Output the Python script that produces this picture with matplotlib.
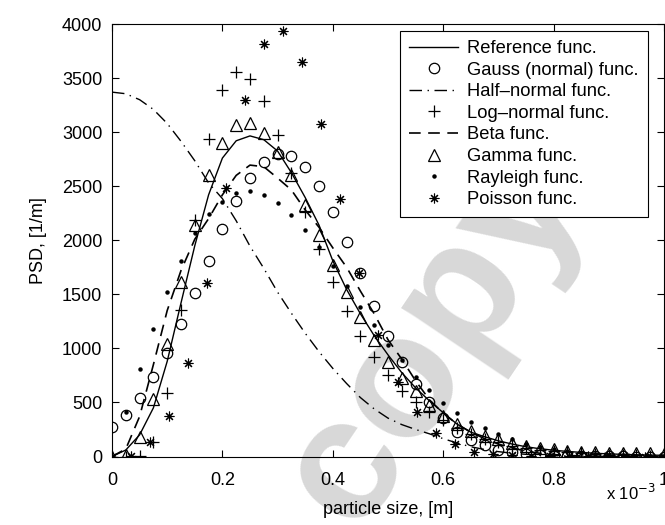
import numpy as np
import matplotlib
matplotlib.use("Agg")
import matplotlib.pyplot as plt

plt.rcParams["font.family"] = ["Liberation Sans", "DejaVu Sans"]
plt.rcParams["font.size"] = 13

# x grid in units of 1e-3 m (0 ... 1, step 0.025)
x = np.linspace(0, 1, 41)
# Poisson is sampled on a coarser grid (30 points)
x_poisson = np.linspace(0, 1, 30)

reference = [0, 60, 200, 450, 880, 1420, 1950, 2420, 2760, 2920, 2965,
             2930, 2825, 2625, 2395, 2140, 1810, 1545, 1320, 1118, 940,
             775, 635, 515, 405, 300, 225, 183, 145, 115, 90, 72, 58, 47,
             38, 30, 24, 20, 16, 13, 11]
gauss = [270, 384, 538, 738, 959, 1222, 1514, 1807, 2103, 2364, 2577,
         2725, 2796, 2780, 2678, 2503, 2263, 1985, 1693, 1394, 1116, 876,
         670, 501, 353, 229, 152, 104, 62, 38, 25, 15, 9, 5, 3, 2, 1, 1,
         0, 0, 0]
half_normal = [3370, 3355, 3300, 3210, 3080, 2915, 2735, 2530, 2385, 2180,
               1945, 1740, 1520, 1325, 1140, 970, 815, 675, 545, 440, 355,
               295, 250, 210, 165, 125, 90, 65, 45, 30, 20, 13, 8, 5, 3, 2,
               1, 1, 0, 0, 0]
log_normal = [0, 0, 3, 137, 590, 1354, 2190, 2932, 3387, 3556, 3495, 3289,
              2971, 2620, 2262, 1915, 1616, 1347, 1114, 917, 753, 608, 506,
              414, 337, 262, 210, 165, 130, 100, 80, 62, 48, 38, 30, 23, 18,
              14, 11, 9, 7]
beta = [0, 70, 370, 850, 1350, 1720, 2010, 2200, 2420, 2600, 2695, 2680,
        2575, 2465, 2280, 2120, 1930, 1750, 1530, 1320, 1080, 900, 700, 525,
        400, 300, 225, 165, 115, 78, 50, 30, 18, 10, 5, 2, 0, 0, 0, 0, 0]
gamma = [0, 10, 178, 528, 1037, 1616, 2140, 2602, 2900, 3064, 3089, 2993,
         2817, 2602, 2324, 2047, 1770, 1523, 1292, 1077, 876, 723, 608, 476,
         375, 305, 235, 190, 160, 125, 100, 82, 66, 55, 46, 40, 35, 32, 30,
         28, 26]
rayleigh = [0, 410, 810, 1180, 1523, 1810, 2063, 2241, 2355, 2438, 2454,
            2423, 2346, 2232, 2093, 1940, 1760, 1575, 1385, 1215, 1027, 890,
            738, 612, 499, 406, 322, 261, 205, 158, 120, 89, 65, 47, 33, 23,
            16, 11, 7, 5, 3]
poisson = [0, 5, 137, 375, 867, 1606, 2484, 3295, 3819, 3933, 3649, 3079,
           2377, 1693, 1123, 691, 408, 214, 115, 44, 23, 14, 8, 5, 3, 2, 1,
           0, 0, 0]

x_ticks = [0, 0.2, 0.4, 0.6, 0.8, 1.0]
x_tick_labels = ["0", "0.2", "0.4", "0.6", "0.8", "1"]
y_ticks = list(range(0, 4001, 500))

fig = plt.figure(figsize=(6.65, 5.25), dpi=100)
ax = fig.add_axes([112 / 665, 68.5 / 525, 552 / 665, 432.5 / 525])

# faint watermark behind the data
ax.text(0.58, 0.275, "copy", transform=ax.transAxes, fontsize=126,
        fontweight="bold", color="#d8d8d8", rotation=56, ha="center",
        va="center", zorder=0, clip_on=False)

k = "black"
ax.plot(x, reference, color=k, lw=1.0, label="Reference func.", zorder=3)
ax.plot(x, gauss, "o", mfc="none", mec=k, ms=7.5, mew=0.9,
        label="Gauss (normal) func.", zorder=3)
ax.plot(x, half_normal, color=k, lw=1.0, dashes=(9, 4, 1, 4),
        label="Half\u2013normal func.", zorder=3)
ax.plot(x, log_normal, "+", color=k, ms=8, mew=0.9,
        label="Log\u2013normal func.", zorder=3)
ax.plot(x, beta, color=k, lw=1.2, dashes=(7, 4.5),
        label="Beta func.", zorder=3)
ax.plot(x, gamma, "^", mfc="none", mec=k, ms=8, mew=0.9,
        label="Gamma func.", zorder=3)
ax.plot(x, rayleigh, "o", color=k, ms=2.2, label="Rayleigh func.", zorder=3)
ax.plot(x_poisson, poisson, marker=(8, 2, 0), ls="none", color=k, ms=7,
        mew=0.8, label="Poisson func.", zorder=3)

ax.set_xlim(0, 1)
ax.set_ylim(0, 4000)
ax.set_xticks(x_ticks)
ax.set_xticklabels(x_tick_labels)
ax.set_yticks(y_ticks)
ax.tick_params(direction="in", top=True, right=True, length=5, width=0.8,
               labelsize=13)
ax.tick_params(axis="x", pad=11)
ax.tick_params(axis="y", pad=7)
for s in ax.spines.values():
    s.set_linewidth(0.8)

ax.set_xlabel("particle size, [m]", fontsize=13, labelpad=9)
ax.set_ylabel("PSD, [1/m]", fontsize=13, labelpad=11)
ax.text(0.985, -0.084, "x 10$^{-3}$", transform=ax.transAxes, ha="right",
        va="center", fontsize=12)

leg = ax.legend(loc="upper right", bbox_to_anchor=(0.971, 0.984),
                borderaxespad=0, fancybox=False, framealpha=1,
                edgecolor="black", fontsize=13.2, handlelength=2.67,
                handletextpad=0.5, labelspacing=0.25, borderpad=0.5)
leg.get_frame().set_linewidth(0.8)

fig.savefig("out.png", dpi=100)
